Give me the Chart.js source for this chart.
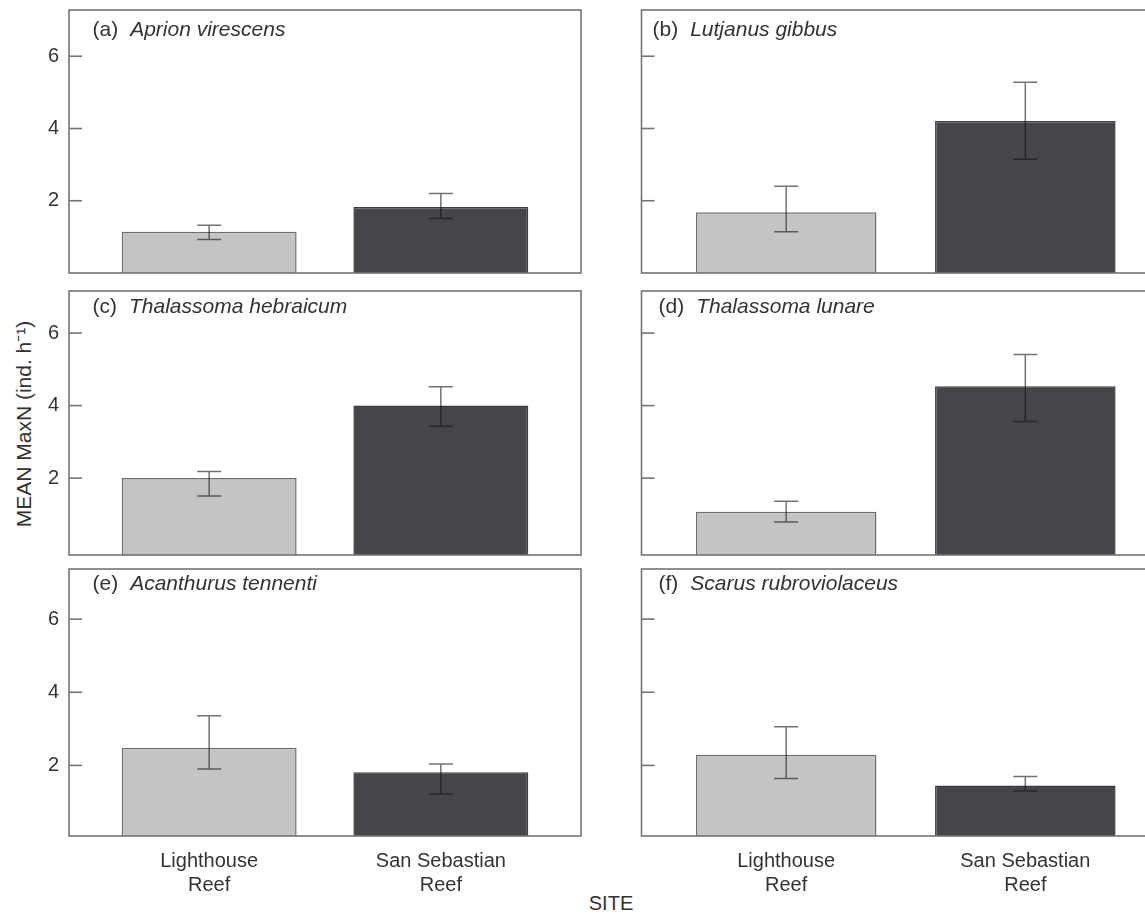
<!DOCTYPE html>
<html>
<head>
<meta charset="utf-8">
<script src="https://cdn.jsdelivr.net/npm/chart.js@4.4.1/dist/chart.umd.min.js"></script>
<style>
  html, body { margin: 0; padding: 0; background: #fff; overflow: hidden; width: 1145px; height: 915px; }
  #fig { position: relative; width: 1145px; height: 915px; overflow: hidden;
         font-family: "Liberation Sans", Arial, sans-serif; color: #333; }
  #fig canvas { position: absolute; }
  .ytitle { position: absolute; left: 23px; top: 424px; white-space: nowrap; font-size: 21px;
            transform: translate(-50%, -50%) rotate(-90deg); }
  .xtitle { position: absolute; left: 611px; top: 903px; font-size: 20px;
            transform: translate(-50%, -50%); }
</style>
</head>
<body>
<div id="fig">
  <div class="ytitle">MEAN MaxN (ind. h⁻¹)</div>
  <div class="xtitle">SITE</div>
</div>
<script>
// Sites on the x axis (two-line labels)
const sites = [['Lighthouse', 'Reef'], ['San Sebastian', 'Reef']];
const panelTags = ['(a)', '(b)', '(c)', '(d)', '(e)', '(f)'];
const species = ['Aprion virescens', 'Lutjanus gibbus', 'Thalassoma hebraicum',
                 'Thalassoma lunare', 'Acanthurus tennenti', 'Scarus rubroviolaceus'];

// Mean MaxN with lower / upper error limits, one entry per species
const lighthouseMean = [1.14, 1.68, 2.00, 1.07, 2.48, 2.29];
const lighthouseLow  = [0.93, 1.14, 1.51, 0.79, 1.90, 1.64];
const lighthouseHigh = [1.32, 2.40, 2.18, 1.36, 3.36, 3.06];
const sanSebastianMean = [1.83, 4.21, 4.00, 4.53, 1.81, 1.45];
const sanSebastianLow  = [1.51, 3.15, 3.43, 3.56, 1.22, 1.30];
const sanSebastianHigh = [2.20, 5.28, 4.52, 5.41, 2.04, 1.70];

const yTicks = [2, 4, 6];
const sitePositions = [1, 2];

// Panel grid geometry
const rows = [
  { top: 10,    height: 263.4, yMin: 0,     yMax: 7.28, labelDy: 20 },
  { top: 290.7, height: 263.8, yMin: -0.12, yMax: 7.16, labelDy: 16 },
  { top: 569,   height: 263.7, yMin: 0.07,  yMax: 7.37, labelDy: 15 }
];
const cols = [
  { canvasLeft: 0,   axisWidth: 69,   canvasWidth: 584, padRight: 3 },
  { canvasLeft: 600, axisWidth: 41.5, canvasWidth: 575, padRight: 5 }
];
const labelInset = [23.5, 11, 23.5, 17, 23.5, 17];

const LIGHT = '#c3c4c6', DARK = '#45464a';
const FONT = '"Liberation Sans", Arial, sans-serif';
Chart.defaults.font.family = FONT;
Chart.defaults.font.size = 20;
Chart.defaults.color = '#333';

// Scale edge paddings are not wanted: the plot box is fixed by the layout above
const noEdgePadding = s => {
  s.paddingTop = 0; s.paddingBottom = 0; s.paddingLeft = 0; s.paddingRight = 0;
};

const panelDecor = {
  id: 'panelDecor',
  afterDatasetsDraw(chart, args, opts) {
    const { ctx, chartArea: a } = chart;
    const ys = chart.scales.y;
    ctx.save();
    // error bars
    const meta = chart.getDatasetMeta(0);
    ctx.strokeStyle = 'rgba(20,20,20,0.6)';
    ctx.lineWidth = 1.5;
    meta.data.forEach((bar, j) => {
      const yl = ys.getPixelForValue(opts.low[j]);
      const yh = ys.getPixelForValue(opts.high[j]);
      ctx.beginPath();
      ctx.moveTo(bar.x, yl); ctx.lineTo(bar.x, yh);
      ctx.moveTo(bar.x - 12, yl); ctx.lineTo(bar.x + 12, yl);
      ctx.moveTo(bar.x - 12, yh); ctx.lineTo(bar.x + 12, yh);
      ctx.stroke();
    });
    // frame
    ctx.strokeStyle = '#747474';
    ctx.lineWidth = 1.6;
    ctx.strokeRect(a.left, a.top, a.right - a.left, a.bottom - a.top);
    // inward tick marks
    ys.ticks.forEach(t => {
      const y = ys.getPixelForValue(t.value);
      ctx.beginPath();
      ctx.moveTo(a.left, y); ctx.lineTo(a.left + 13, y);
      ctx.stroke();
    });
    // panel label
    ctx.fillStyle = '#333';
    ctx.textBaseline = 'middle';
    ctx.textAlign = 'left';
    const x0 = a.left + opts.inset, y0 = a.top + opts.dy;
    ctx.font = '21px ' + FONT;
    ctx.fillText(opts.tag, x0, y0);
    const w = ctx.measureText(opts.tag).width;
    ctx.font = 'italic 21px ' + FONT;
    ctx.fillText(opts.name, x0 + w + 12, y0);
    ctx.restore();
  }
};

species.forEach((name, i) => {
  const row = rows[Math.floor(i / 2)];
  const col = cols[i % 2];
  const isBottom = Math.floor(i / 2) === rows.length - 1;
  const isLeft = i % 2 === 0;
  const xAxisH = isBottom ? 80 : 0;

  const canvas = document.createElement('canvas');
  canvas.width = col.canvasWidth;
  canvas.height = Math.round(row.height + 6 + xAxisH);
  canvas.style.left = col.canvasLeft + 'px';
  canvas.style.top = (row.top - 3) + 'px';
  document.getElementById('fig').appendChild(canvas);

  new Chart(canvas, {
    type: 'bar',
    data: {
      datasets: [{
        data: [
          { x: sitePositions[0], y: lighthouseMean[i] },
          { x: sitePositions[1], y: sanSebastianMean[i] }
        ],
        backgroundColor: [LIGHT, DARK],
        borderColor: ['#6e6e6e', '#3c3d41'],
        borderWidth: 1.5,
        base: row.yMin,
        barPercentage: 0.755,
        categoryPercentage: 1
      }]
    },
    options: {
      responsive: false,
      animation: false,
      devicePixelRatio: 1,
      layout: { padding: { top: 3, right: col.padRight, bottom: isBottom ? 0 : 3, left: 0 } },
      plugins: {
        legend: { display: false },
        tooltip: { enabled: false },
        panelDecor: {
          low: [lighthouseLow[i], sanSebastianLow[i]],
          high: [lighthouseHigh[i], sanSebastianHigh[i]],
          tag: panelTags[i], name: name,
          inset: labelInset[i], dy: row.labelDy
        }
      },
      scales: {
        x: {
          type: 'linear',
          min: 0.395, max: 2.605,
          offset: false,
          grid: { display: false, drawTicks: false },
          border: { display: false },
          afterBuildTicks: s => { s.ticks = sitePositions.map(v => ({ value: v })); },
          afterFit: s => { s.height = xAxisH; noEdgePadding(s); },
          ticks: {
            display: isBottom,
            autoSkip: false,
            maxRotation: 0,
            padding: 13,
            color: '#333',
            font: { size: 20, lineHeight: 1.2 },
            callback: (v, idx) => sites[idx]
          }
        },
        y: {
          type: 'linear',
          min: row.yMin, max: row.yMax,
          beginAtZero: false,
          grid: { display: false, drawTicks: false },
          border: { display: false },
          afterBuildTicks: s => { s.ticks = yTicks.map(v => ({ value: v })); },
          afterFit: s => { s.width = col.axisWidth; noEdgePadding(s); },
          ticks: {
            display: isLeft,
            padding: 10,
            color: '#333',
            font: { size: 20 }
          }
        }
      }
    },
    plugins: [panelDecor]
  });
});
</script>
</body>
</html>
